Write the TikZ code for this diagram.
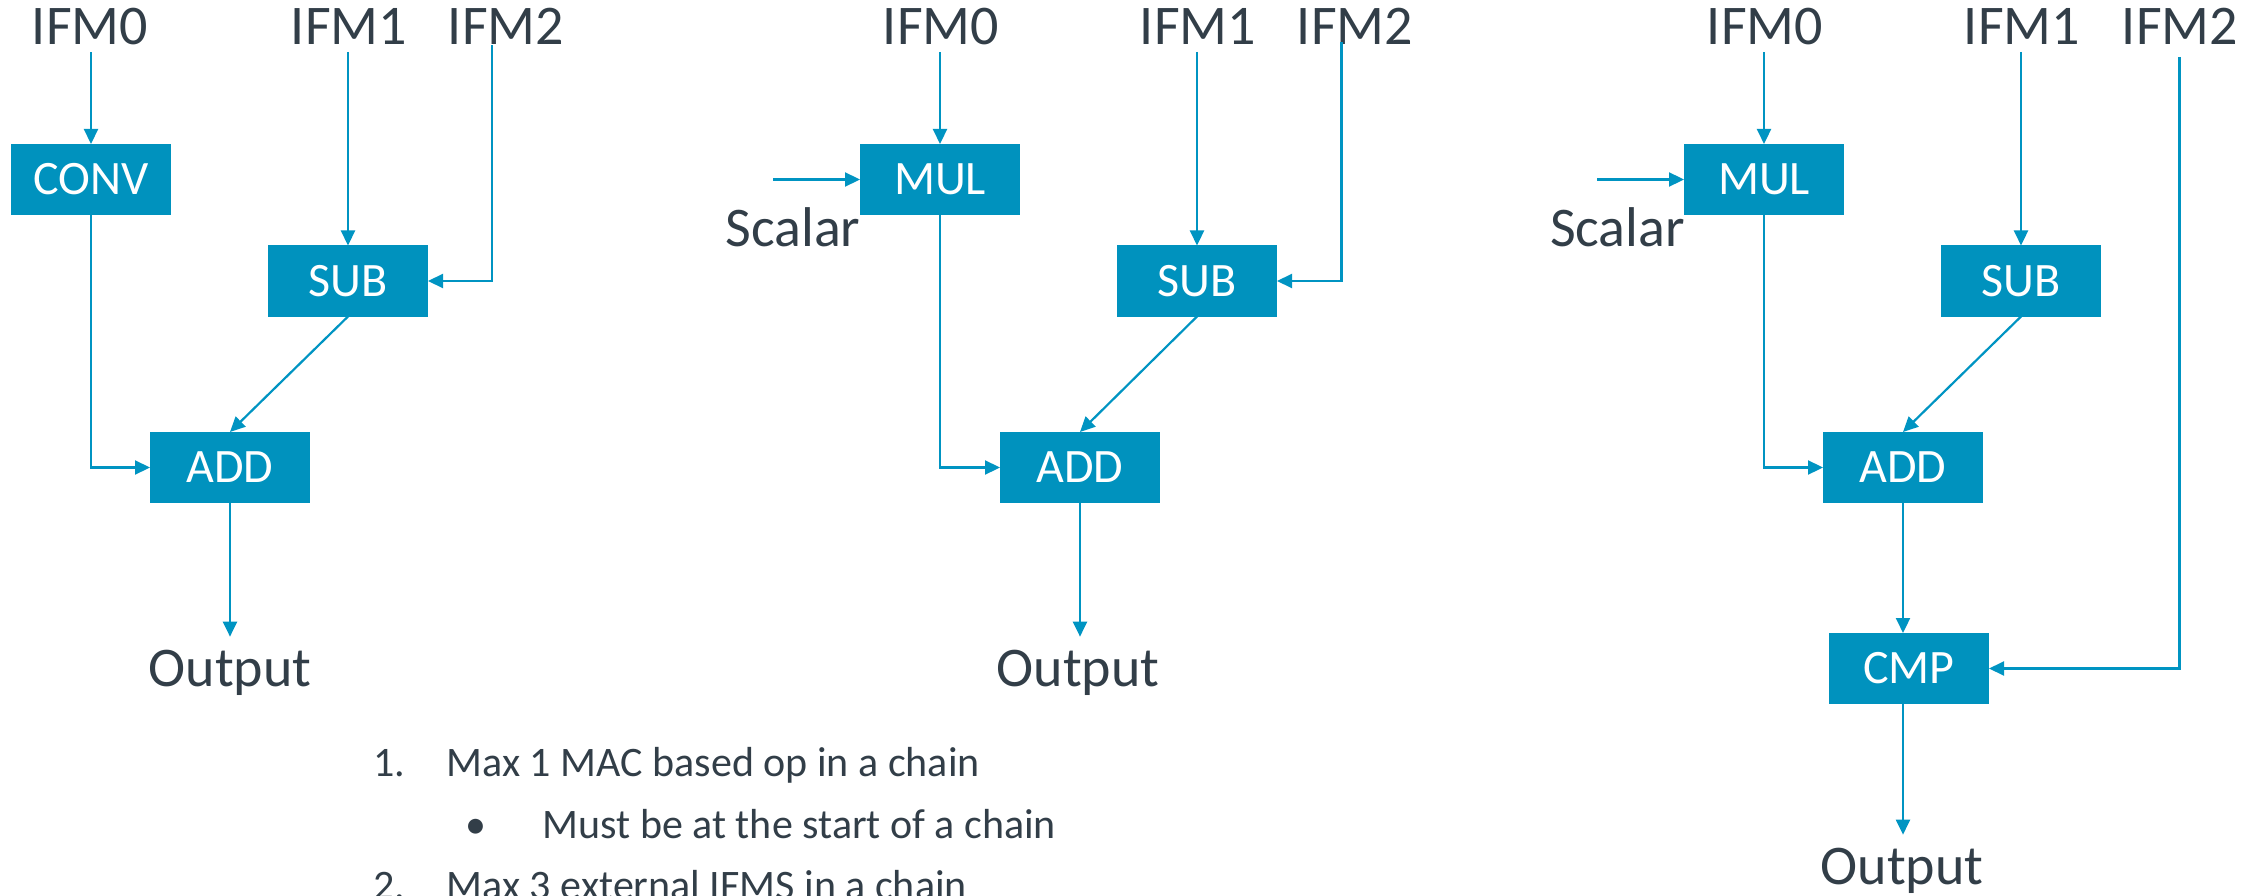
\documentclass[tikz,border=0pt]{standalone}
\usepackage{fontspec}
\setmainfont{Carlito}
\usetikzlibrary{arrows.meta}

\definecolor{opblue}{RGB}{0,146,190}
\definecolor{wireblue}{RGB}{0,148,194}
\definecolor{ink}{RGB}{50,62,72}

\tikzset{
  opbox/.style={draw=none, fill=opblue, text=white, minimum width=160pt,
    minimum height=71pt, inner sep=0pt, outer sep=0pt,
    font=\fontsize{48}{48}\selectfont},
  tensor/.style={text=ink, inner xsep=0pt, inner ysep=7pt, outer sep=0pt,
    anchor=base, font=\fontsize{56}{56}\selectfont},
  result/.style={text=ink, inner xsep=0pt, inner ysep=13pt, outer sep=0pt,
    anchor=base, font=\fontsize{56}{56}\selectfont},
  note/.style={text=ink, inner sep=0pt, outer sep=0pt, anchor=base west,
    font=\fontsize{42}{42}\selectfont},
  wire/.style={draw=wireblue, line width=2.2pt},
  arr/.style={wire, -{Triangle[length=15pt,width=14pt]}},
}

\begin{document}
\begin{tikzpicture}[x=1pt, y=-1pt]
\useasboundingbox (0,0) rectangle (2257,896);

% ---------- chain 1: CONV -> ADD ----------
\node[tensor] (i0a) at (90,45) {IFM0};
\node[tensor] (i1a) at (349,45) {IFM1};
\node[tensor] (i2a) at (506,45) {IFM2};
\coordinate (w2a) at (492,45);
\node[opbox] (conva) at (91,179.5) {CONV};
\node[opbox] (suba) at (348,281) {SUB};
\node[opbox] (adda) at (230,467.5) {ADD};
\node[result] (outa) at (230,686) {Output};

\draw[arr] (conva.north |- i0a.south) -- (conva.north);
\draw[arr] (suba.north |- i1a.south) -- (suba.north);
\draw[arr] (w2a) |- (suba.east);
\draw[arr] (conva.south) |- (adda.west);
\draw[arr] (suba.south) -- (adda.north);
\draw[arr] (adda.south) -- (adda.south |- outa.north);

% ---------- chain 2: MUL with scalar -> ADD ----------
\node[tensor] (i0b) at (941,45) {IFM0};
\node[tensor] (i1b) at (1198,45) {IFM1};
\node[tensor] (i2b) at (1355,45) {IFM2};
\coordinate (w2b) at (1341.5,42);
\node[opbox] (mulb) at (940,179.5) {MUL};
\coordinate (scb) at (773,179.5);
\node[tensor, inner ysep=0pt] (sclb) at (793,247) {Scalar};
\node[opbox] (subb) at (1197,281) {SUB};
\node[opbox] (addb) at (1080,467.5) {ADD};
\node[result] (outb) at (1078,686) {Output};

\draw[arr] (mulb.north |- i0b.south) -- (mulb.north);
\draw[arr] (scb) -- (mulb.west);
\draw[arr] (subb.north |- i1b.south) -- (subb.north);
\draw[arr] (w2b) |- (subb.east);
\draw[arr] (mulb.south) |- (addb.west);
\draw[arr] (subb.south) -- (addb.north);
\draw[arr] (addb.south) -- (addb.south |- outb.north);

% ---------- chain 3: MUL -> ADD -> CMP ----------
\node[tensor] (i0c) at (1765,45) {IFM0};
\node[tensor] (i1c) at (2022,45) {IFM1};
\node[tensor] (i2c) at (2180,45) {IFM2};
\coordinate (w2c) at (2179.5,57);
\node[opbox] (mulc) at (1764,179.5) {MUL};
\coordinate (scc) at (1597,179.5);
\node[tensor, inner ysep=0pt] (sclc) at (1617.5,247) {Scalar};
\node[opbox] (subc) at (2021,281) {SUB};
\node[opbox] (addc) at (1903,467.5) {ADD};
\node[opbox] (cmpc) at (1909,668.5) {CMP};
\node[result] (outc) at (1902,884) {Output};

\draw[arr] (mulc.north |- i0c.south) -- (mulc.north);
\draw[arr] (scc) -- (mulc.west);
\draw[arr] (subc.north |- i1c.south) -- (subc.north);
\draw[arr] (mulc.south) |- (addc.west);
\draw[arr] (subc.south) -- (addc.north);
\draw[arr] (addc.south) -- (addc.south |- cmpc.north);
\draw[arr] (w2c) |- (cmpc.east);
\draw[arr] (addc.south |- cmpc.south) -- (addc.south |- outc.north);

% ---------- rules ----------
\node[note] (n1) at (373,776) {1.};
\node[note] (t1) at (446.7,776) {Max 1 MAC based op in a chain};
\node[note, anchor=base] (b1) at (476,838) {•};
\node[note] (t2) at (542.7,838) {Must be at the start of a chain};
\node[note] (n2) at (373,899) {2.};
\node[note] (t3) at (446.7,899) {Max 3 external IFMS in a chain};
\end{tikzpicture}
\end{document}
